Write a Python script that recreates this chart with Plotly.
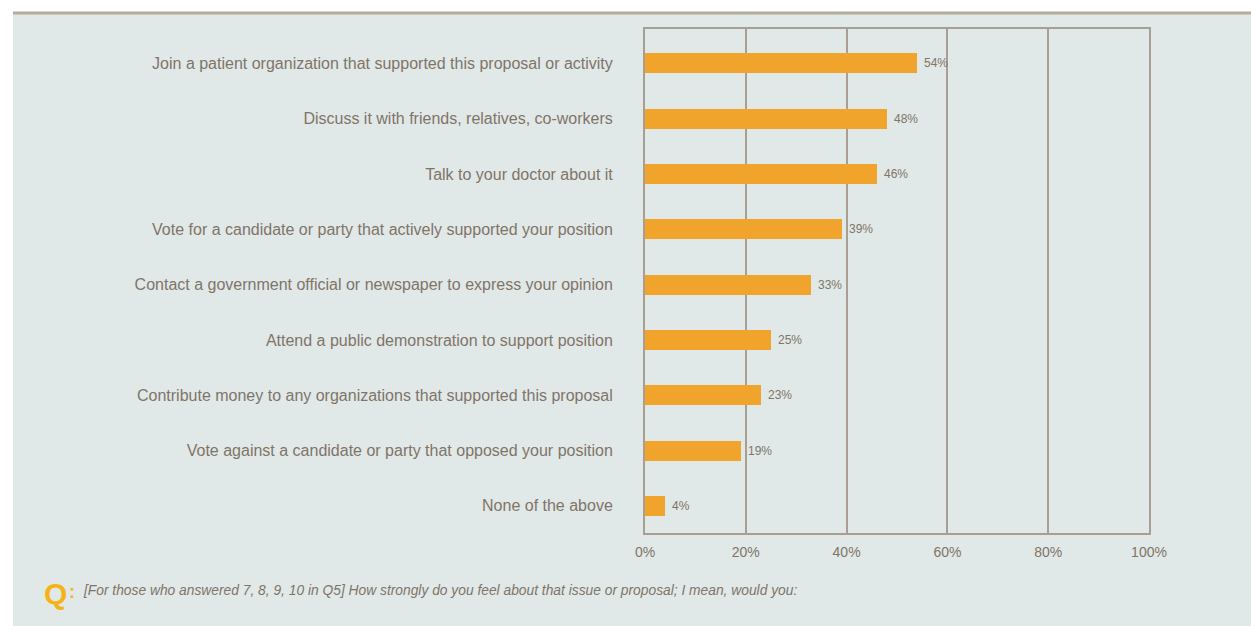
import plotly.graph_objects as go

categories = [
    "Join a patient organization that supported this proposal or activity",
    "Discuss it with friends, relatives, co-workers",
    "Talk to your doctor about it",
    "Vote for a candidate or party that actively supported your position",
    "Contact a government official or newspaper to express your opinion",
    "Attend a public demonstration to support position",
    "Contribute money to any organizations that supported this proposal",
    "Vote against a candidate or party that opposed your position",
    "None of the above",
]
values = [54, 48, 46, 39, 33, 25, 23, 19, 4]
x_ticks = [0, 20, 40, 60, 80, 100]
x_tick_labels = ["0%", "20%", "40%", "60%", "80%", "100%"]

W, H = 1251, 626
L, R, T, B = 645, 1149, 29, 533
PW, PH = R - L, B - T

GRID = "#a89e92"
TXT = "#807469"
FONT = "Liberation Sans, Arial, sans-serif"

fig = go.Figure()
fig.add_trace(go.Bar(
    y=categories, x=values, orientation="h",
    marker=dict(color="#f0a42c", line=dict(width=0)),
    width=0.36,
    hoverinfo="x+y",
))

def px(x):
    return (x - L) / PW

def py(y):
    return (B - y) / PH

shapes = [
    dict(type="rect", xref="paper", yref="paper", x0=px(13), x1=px(W + 5), y0=py(14), y1=py(H + 5),
         fillcolor="#e0e9e7", line=dict(width=0), layer="below"),
    dict(type="line", xref="paper", yref="paper", x0=px(13), x1=px(W + 5), y0=py(13), y1=py(13),
         line=dict(color="#b5aa9c", width=3)),
]

annotations = [
    dict(x=v, y=c, xref="x", yref="y", text=f"{v}%", showarrow=False,
         xanchor="left", yanchor="middle", xshift=5,
         font=dict(size=12, color=TXT, family=FONT))
    for c, v in zip(categories, values)
]
annotations += [
    dict(xref="paper", yref="paper", x=px(42), y=py(593), text="<b>Q</b>", showarrow=False,
         xanchor="left", yanchor="middle", font=dict(size=30, color="#f5b318", family=FONT)),
    dict(xref="paper", yref="paper", x=px(67), y=py(592), text="<b>:</b>", showarrow=False,
         xanchor="left", yanchor="middle", font=dict(size=18, color="#f5b318", family=FONT)),
    dict(xref="paper", yref="paper", x=px(81), y=py(590),
         text="<i>[For those who answered 7, 8, 9, 10 in Q5] How strongly do you feel about that issue or proposal; I mean, would you:</i>",
         showarrow=False, xanchor="left", yanchor="middle",
         font=dict(size=13.8, color=TXT, family=FONT)),
]

fig.update_layout(
    width=W, height=H,
    margin=dict(l=L, r=W - R, t=T, b=H - B, pad=0),
    paper_bgcolor="white", plot_bgcolor="#e0e9e7",
    showlegend=False,
    shapes=shapes, annotations=annotations,
    bargap=0,
    xaxis=dict(range=[0, 100], tickvals=x_ticks, ticktext=x_tick_labels,
               showgrid=True, gridcolor=GRID, gridwidth=2,
               showline=True, linecolor=GRID, linewidth=2, mirror=True,
               zeroline=False, ticks="", fixedrange=True, ticklabelstandoff=5,
               tickfont=dict(size=14, color=TXT, family=FONT)),
    yaxis=dict(autorange=False, range=[8.49, -0.62],
               showgrid=False, showline=True, linecolor=GRID, linewidth=2, mirror=True,
               ticks="", ticklabelstandoff=27, fixedrange=True,
               tickfont=dict(size=16, color=TXT, family=FONT)),
)

fig.write_html("out.html")
